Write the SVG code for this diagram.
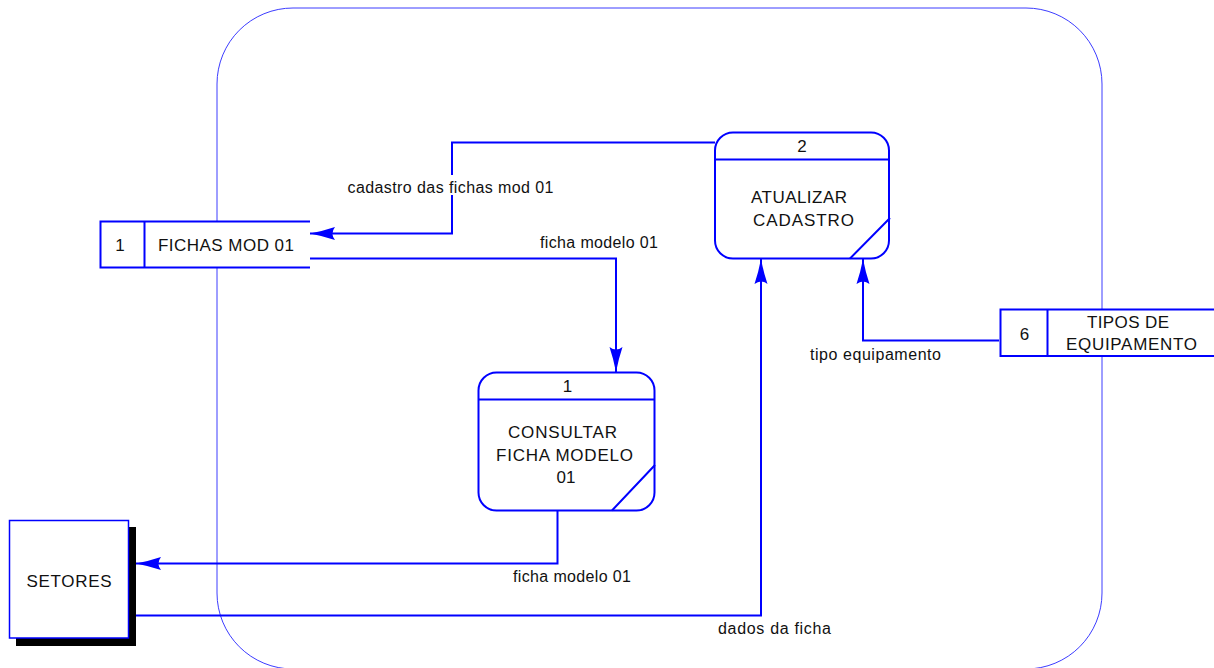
<svg xmlns="http://www.w3.org/2000/svg" width="1214" height="668" viewBox="0 0 1214 668">
<style>
text{font-family:"Liberation Sans",Arial,sans-serif;font-size:17px;fill:#111;text-anchor:middle}
.l{font-size:16px;text-anchor:start}
.s{fill:none;stroke:#0000ff;stroke-width:2}
.b{fill:#fff;stroke:#0000ff;stroke-width:2}
.c{fill:none;stroke:#0000ff;stroke-width:2}
.m{fill:#fff}
</style>
<defs>
<marker id="a" markerUnits="userSpaceOnUse" markerWidth="26" markerHeight="16" refX="25" refY="8" orient="auto">
<path d="M0 1.500 Q12 5.500 25 8 Q12 10.500 0 14.500 Q5 8 0 1.500 Z" fill="#0000ff"/>
</marker>
</defs>
<rect id="boundary" x="217" y="8" width="885" height="661" rx="76" ry="76" fill="none" stroke="#3c3cff" stroke-width="1"/>
<g id="connectors">
<path class="c" d="M715 142.500H452V233.500H310" marker-end="url(#a)"/>
<path class="c" d="M310 258.500H616V372" marker-end="url(#a)"/>
<path class="c" d="M557.500 511V563.500H136" marker-end="url(#a)"/>
<path class="c" d="M136 615.500H761V259" marker-end="url(#a)"/>
<path class="c" d="M999 340.500H863V259" marker-end="url(#a)"/>
</g>
<g id="labels">
<rect class="m" x="347" y="175" width="208" height="20"/>
<text class="l" x="347.500" y="193" textLength="206" lengthAdjust="spacing">cadastro das fichas mod 01</text>
<text class="l" x="540" y="248" textLength="118" lengthAdjust="spacing">ficha modelo 01</text>
<text class="l" x="513" y="582" textLength="118" lengthAdjust="spacing">ficha modelo 01</text>
<text class="l" x="718" y="634" textLength="113" lengthAdjust="spacing">dados da ficha</text>
<text class="l" x="810" y="360" textLength="131" lengthAdjust="spacing">tipo equipamento</text>
</g>
<g id="store-1">
<rect x="100" y="221" width="210" height="47" fill="#fff"/>
<path class="s" d="M310 221.500H100.500V267.500H310M144.500 221.500V267.500"/>
<text x="120" y="250.500">1</text>
<text x="226" y="250.500" textLength="136" lengthAdjust="spacing">FICHAS MOD 01</text>
</g>
<g id="process-2">
<rect class="b" x="715" y="132.500" width="174" height="126" rx="18" ry="18"/>
<path class="s" d="M715 159.500H889M850 258.500L890 218"/>
<text x="802" y="152">2</text>
<text x="799" y="203" textLength="96" lengthAdjust="spacing">ATUALIZAR</text>
<text x="803.500" y="226" textLength="101" lengthAdjust="spacing">CADASTRO</text>
</g>
<g id="process-1">
<rect class="b" x="478.500" y="372.500" width="176" height="138" rx="18" ry="18"/>
<path class="s" d="M478.500 399.500H654.500M612 510.500L655 465"/>
<text x="567.500" y="392">1</text>
<text x="562.500" y="438" textLength="109" lengthAdjust="spacing">CONSULTAR</text>
<text x="564.500" y="461" textLength="137" lengthAdjust="spacing">FICHA MODELO</text>
<text x="566" y="483">01</text>
</g>
<g id="store-6">
<rect x="1000" y="309" width="214" height="47" fill="#fff"/>
<path class="s" d="M1214 309.500H1000.500V356H1214M1047.500 309.500V356"/>
<text x="1024.500" y="340">6</text>
<text x="1128" y="328" textLength="82" lengthAdjust="spacing">TIPOS DE</text>
<text x="1131.500" y="350" textLength="131" lengthAdjust="spacing">EQUIPAMENTO</text>
</g>
<g id="setores">
<rect x="16" y="527" width="120" height="119" fill="#000"/>
<rect x="9.500" y="520.500" width="119" height="117.500" fill="#fff" stroke="#0000ff" stroke-width="1.500"/>
<text x="69" y="587" textLength="85" lengthAdjust="spacing">SETORES</text>
</g>
</svg>
